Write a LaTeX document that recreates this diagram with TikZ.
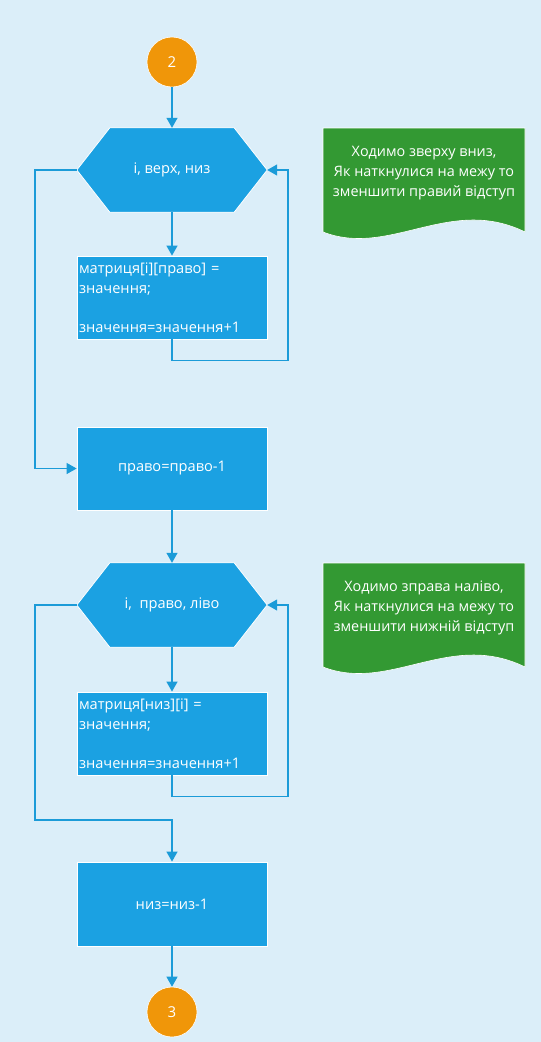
\documentclass[tikz,border=0pt]{standalone}
\usepackage{fontspec}
\setmainfont{Open Sans}
\usetikzlibrary{arrows.meta}
\definecolor{bgc}{RGB}{219,238,249}
\definecolor{fblue}{RGB}{27,161,226}
\definecolor{lblue}{RGB}{27,155,216}
\definecolor{forange}{RGB}{240,150,9}
\definecolor{fgreen}{RGB}{51,153,51}
\pgfdeclarelayer{bottom}
\pgfdeclarelayer{shapes}
\pgfsetlayers{bottom,shapes,main}
\begin{document}
\begin{tikzpicture}[x=1pt,y=-1pt,
  txt/.style={text=white,font=\fontsize{14.6}{19.5}\selectfont},
  term/.style={circle,fill=forange,draw=white,line width=0.6pt,minimum size=50pt,inner sep=0pt,text=white,font=\fontsize{15}{18}\selectfont},
  box/.style={rectangle,fill=fblue,draw=white,line width=0.8pt,minimum width=190pt,minimum height=83pt,inner sep=0pt,txt},
  hexb/.style={rectangle,minimum width=190pt,minimum height=84pt,inner sep=0pt,txt},
  hexshape/.style={fill=fblue,draw=white,line width=0.8pt},
  note/.style={fill=fgreen,draw=white,line width=0.6pt},
  notetxt/.style={align=center,text=white,font=\fontsize{14.4}{20}\selectfont},
  conn/.style={draw=lblue,line width=1.2pt,-{Triangle[width=11pt,length=10pt]}}
]
\begin{pgfonlayer}{bottom}
\fill[bgc] (0,0) rectangle (541,1042);
\end{pgfonlayer}
\useasboundingbox (0,0) rectangle (541,1042);

% terminals
\node[term] (c2) at (172,62) {2};
\node[term] (c3) at (172,1012) {3};

% hexagons (loop headers)
\node[hexb] (h1) at (172,170) {i, верх, низ};
\node[hexb] (h2) at (172,605) {i,\ \ право, ліво};
\begin{pgfonlayer}{shapes}
\foreach \h in {h1,h2}{
  \path[hexshape] (\h.west) -- ([xshift=33pt]\h.north west) -- ([xshift=-33pt]\h.north east)
    -- (\h.east) -- ([xshift=-33pt]\h.south east) -- ([xshift=33pt]\h.south west) -- cycle;
}
% notes
\path[note] (323,128) -- (525,128) -- (525,232)
  .. controls (450,195) and (390,258) .. (323,232) -- cycle;
\path[note] (323,563) -- (525,563) -- (525,667)
  .. controls (450,630) and (390,693) .. (323,667) -- cycle;
\end{pgfonlayer}

% process boxes
\node[box,align=left,text width=186pt] (b1) at (172,297.5)
  {матриця[i][право] =\\значення;\\[19.5pt]значення=значення+1};
\node[box] (b2) at (172,468.5) {право=право-1};
\node[box,align=left,text width=186pt] (b3) at (172,733.5)
  {матриця[низ][i] =\\значення;\\[19.5pt]значення=значення+1};
\node[box,minimum height=84pt] (b4) at (172,904) {низ=низ-1};

% note texts
\node[notetxt] (n1) at (424,173) {Ходимо зверху вниз,\\Як наткнулися на межу то\\зменшити правий відступ};
\node[notetxt] (n2) at (424,608) {Ходимо зправа наліво,\\Як наткнулися на межу то\\зменшити нижній відступ};

% helper coordinates
\coordinate (r1) at (288,170);
\coordinate (l1) at (35,170);
\coordinate (r2) at (288,605);
\coordinate (l2) at (35,605);
\coordinate (m2) at (172,820);

% connectors
\draw[conn] (c2) -- (h1);
\draw[conn] (h1.south) -- (b1.north);
\draw[conn] (b1.south) -- ++(0,21) -| (r1) -- (h1.east);
\draw[conn] (h1.west) -- (l1) |- (b2.west);
\draw[conn] (b2.south) -- (h2.north);
\draw[conn] (h2.south) -- (b3.north);
\draw[conn] (b3.south) -- ++(0,21) -| (r2) -- (h2.east);
\draw[conn] (h2.west) -- (l2) |- (m2) -- (b4.north);
\draw[conn] (b4.south) -- (c3);
\end{tikzpicture}
\end{document}
